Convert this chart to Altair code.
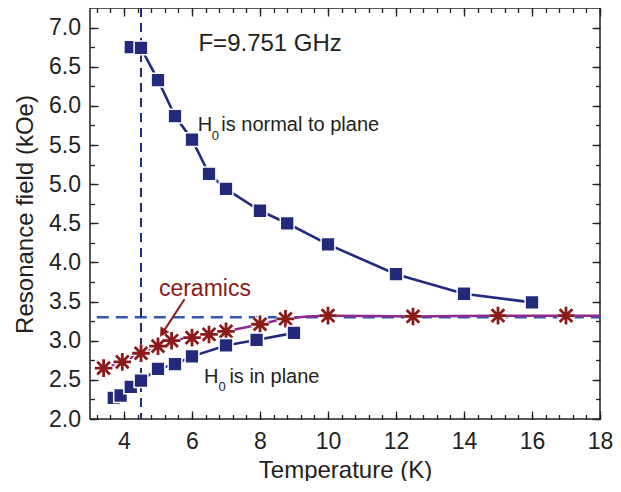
import altair as alt
import pandas as pd

# ---------------- data ----------------
normal_T = [4.2, 4.5, 5.0, 5.5, 6.0, 6.5, 7.0, 8.0, 8.8, 10.0, 12.0, 14.0, 16.0]
normal_H = [6.75, 6.74, 6.33, 5.87, 5.57, 5.13, 4.94, 4.66, 4.50, 4.23, 3.85, 3.60, 3.49]

inplane_T = [3.7, 3.9, 4.2, 4.5, 5.0, 5.5, 6.0, 7.0, 7.9, 9.0]
inplane_H = [2.27, 2.30, 2.41, 2.49, 2.64, 2.70, 2.80, 2.94, 3.01, 3.10]

ceramics_T = [3.4, 3.95, 4.5, 5.0, 5.4, 6.0, 6.5, 7.0, 8.0, 8.75, 10.0, 12.5, 15.0, 17.0]
ceramics_H = [2.65, 2.73, 2.84, 2.93, 3.00, 3.04, 3.08, 3.12, 3.21, 3.28, 3.32, 3.31, 3.32, 3.32]

fit_T = ceramics_T + [18.0]
fit_H = ceramics_H + [3.32]

hline_y = [3.30]
hline_from = [3.2]
hline_to = [18.0]
vline_x = [4.5]

x_major = [4, 6, 8, 10, 12, 14, 16, 18]
x_minor = [round(3.2 + 0.4 * k, 1) for k in range(38)]
y_major = [round(2.0 + 0.5 * k, 1) for k in range(11)]
y_minor = [round(2.0 + 0.25 * k, 2) for k in range(21)]

# annotation texts (anchor positions in data units)
freq_text = ["F=9.751 GHz"]
freq_pos = [6.19, 6.79]
normal_text = ["H", "0", "is normal to plane"]
normal_pos = [6.17, 5.756]
inplane_text = ["H", "0", "is in plane"]
inplane_pos = [6.35, 2.533]
cer_text = ["ceramics"]
cer_pos = [6.38, 3.66]
arrow_T = [5.78, 5.135]
arrow_H = [3.53, 3.10]

# ---------------- style ----------------
FONT = "Liberation Sans"
INK = "#231f20"
NAVY = "#232a7c"
RED = "#8b1a1a"
PURPLE = "#8e2a8c"
DASHBLUE = "#3455ad"
STAR = "M0,-1L0,1M-1,0L1,0M-0.72,-0.72L0.72,0.72M-0.72,0.72L0.72,-0.72"

xs = alt.Scale(domain=[3, 18], nice=False, zero=False)
ys = alt.Scale(domain=[2.0, 7.25], nice=False, zero=False)


def ax(orient, values, size, **kw):
    # axis moved inward by its tick length so the ticks point into the plot
    base = dict(orient=orient, values=values, tickSize=size, offset=-size,
                tickWidth=1.3, tickColor=INK, domain=False, grid=False,
                labels=False, title=None, zindex=1)
    base.update(kw)
    return alt.Axis(**base)


lab = dict(labels=True, labelFont=FONT, labelFontSize=23, labelColor=INK,
           labelFlush=False, labelOverlap=False)
ttl = dict(titleFont=FONT, titleFontSize=24, titleFontWeight="normal", titleColor=INK,
           titleAlign="center", titleBaseline="middle")

ax_bottom = ax("bottom", x_major, 8, format="d", labelPadding=22.5, labelBaseline="middle",
               title="Temperature (K)", titleX=255, titleY=59, **lab, **ttl)
ax_left = ax("left", y_major, 8, format=".1f", labelPadding=9.5,
             title="Resonance field (kOe)", titleX=-73, titleY=206, titleAngle=270,
             **lab, **ttl)

df_normal = pd.DataFrame({"T": normal_T, "H": normal_H})
df_inplane = pd.DataFrame({"T": inplane_T, "H": inplane_H})
df_cer = pd.DataFrame({"T": ceramics_T, "H": ceramics_H})
df_fit = pd.DataFrame({"T": fit_T, "H": fit_H})
df_h = pd.DataFrame({"x1": hline_from, "x2": hline_to, "y": hline_y})
df_v = pd.DataFrame({"x": vline_x})

hline = alt.Chart(df_h).mark_rule(color=DASHBLUE, strokeWidth=2.4, strokeDash=[12, 7]).encode(
    x=alt.X("x1:Q", scale=xs, axis=None), x2="x2:Q",
    y=alt.Y("y:Q", scale=ys, axis=None))

vline = alt.Chart(df_v).mark_rule(color=NAVY, strokeWidth=2, strokeDash=[9, 6]).encode(
    x=alt.X("x:Q", scale=xs, axis=None))

fit = alt.Chart(df_fit).mark_line(color=PURPLE, strokeWidth=2.5, interpolate="monotone").encode(
    x=alt.X("T:Q", scale=xs, axis=None), y=alt.Y("H:Q", scale=ys, axis=None))

line_in = alt.Chart(df_inplane).mark_line(color=NAVY, strokeWidth=2.6).encode(
    x=alt.X("T:Q", scale=xs, axis=ax_bottom), y=alt.Y("H:Q", scale=ys, axis=ax_left))

line_no = alt.Chart(df_normal).mark_line(color=NAVY, strokeWidth=2.6).encode(
    x=alt.X("T:Q", scale=xs, axis=ax("bottom", x_minor, 4.5)),
    y=alt.Y("H:Q", scale=ys, axis=ax("left", y_minor, 4.5)))

star_halo = alt.Chart(df_cer).mark_point(shape=STAR, filled=False, size=310, stroke="white",
                                         strokeWidth=5.5, opacity=1).encode(
    x=alt.X("T:Q", scale=xs, axis=None), y=alt.Y("H:Q", scale=ys, axis=None))
stars = alt.Chart(df_cer).mark_point(shape=STAR, filled=False, size=310, stroke=RED,
                                     strokeWidth=2.8, opacity=1).encode(
    x=alt.X("T:Q", scale=xs, axis=None), y=alt.Y("H:Q", scale=ys, axis=None))

sq_in = alt.Chart(df_inplane).mark_point(shape="square", filled=True, size=190, fill=NAVY,
                                         stroke="white", strokeWidth=1.5, opacity=1).encode(
    x=alt.X("T:Q", scale=xs, axis=ax("top", x_major, 8)),
    y=alt.Y("H:Q", scale=ys, axis=ax("right", y_major, 8)))
sq_no = alt.Chart(df_normal).mark_point(shape="square", filled=True, size=190, fill=NAVY,
                                        stroke="white", strokeWidth=1.5, opacity=1).encode(
    x=alt.X("T:Q", scale=xs, axis=ax("top", x_minor, 4.5)),
    y=alt.Y("H:Q", scale=ys, axis=ax("right", y_minor, 4.5)))


def txt(label, pos, size, color=INK, align="left", dx=0, dy=0):
    d = pd.DataFrame({"x": [pos[0]], "y": [pos[1]], "t": [label]})
    return alt.Chart(d).mark_text(font=FONT, fontSize=size, color=color, align=align,
                                  baseline="middle", dx=dx, dy=dy).encode(
        x=alt.X("x:Q", scale=xs, axis=None), y=alt.Y("y:Q", scale=ys, axis=None),
        text="t:N")


texts = [
    txt(freq_text[0], freq_pos, 24),
    txt(normal_text[0], normal_pos, 20),
    txt(normal_text[1], normal_pos, 13, dx=14, dy=11),
    txt(normal_text[2], normal_pos, 20, dx=23.5),
    txt(inplane_text[0], inplane_pos, 20),
    txt(inplane_text[1], inplane_pos, 13, dx=14.5, dy=10),
    txt(inplane_text[2], inplane_pos, 20, dx=25.5),
    txt(cer_text[0], cer_pos, 23, color=RED, align="center"),
]

df_arrow = pd.DataFrame({"T": arrow_T, "H": arrow_H})
shaft = alt.Chart(df_arrow).mark_line(color=RED, strokeWidth=2).encode(
    x=alt.X("T:Q", scale=xs, axis=None), y=alt.Y("H:Q", scale=ys, axis=None))
head = alt.Chart(df_arrow.iloc[[1]]).mark_point(shape="triangle-up", filled=True, size=90,
                                                 fill=RED, stroke=RED, strokeWidth=0.5,
                                                 angle=213, opacity=1).encode(
    x=alt.X("T:Q", scale=xs, axis=None), y=alt.Y("H:Q", scale=ys, axis=None))

chart = alt.layer(
    hline, vline, fit, line_in, line_no, star_halo, stars, sq_in, sq_no, *texts, shaft, head
).resolve_axis(x="independent", y="independent").properties(
    width=510, height=411,
    autosize=alt.AutoSizeParams(type="none"),
    padding={"left": 82, "top": 0, "right": 13, "bottom": 62},
    background="white",
).configure_view(stroke=INK, strokeWidth=1.5)

chart.save("out.html", embed_options={"renderer": "svg", "actions": False})
